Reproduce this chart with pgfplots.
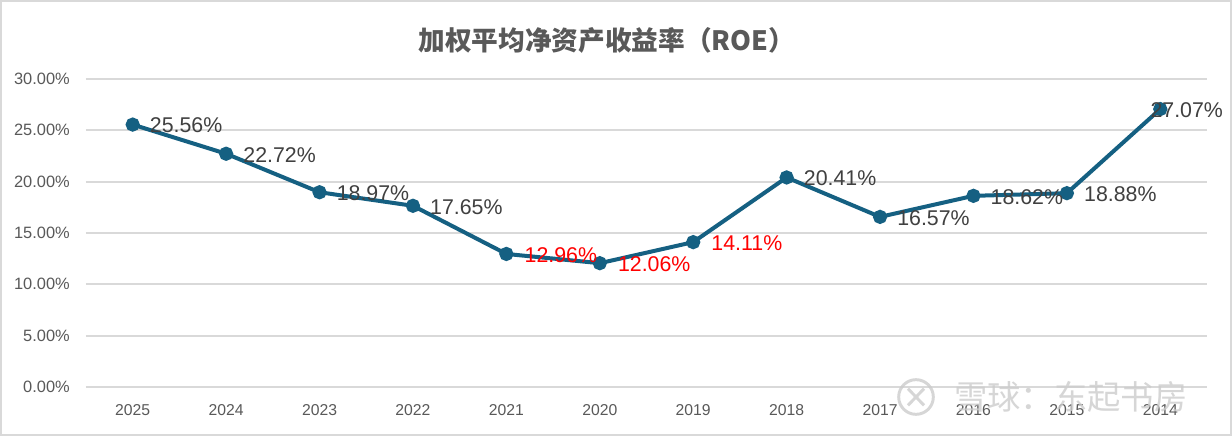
\documentclass[border=0pt]{standalone}
\usepackage{pgfplots}
\pgfplotsset{compat=1.18}
\usepackage{fontspec}
\setmainfont{Liberation Sans}
\newfontfamily\cjk{Noto Sans CJK SC}
\definecolor{lineblue}{HTML}{156082}
\definecolor{txt}{HTML}{404040}
\definecolor{tick}{HTML}{595959}
\definecolor{gridc}{HTML}{D9D9D9}
\begin{document}
\begin{tikzpicture}
\useasboundingbox (0,0) rectangle (924pt,327pt);
\fill[white] (0,0) rectangle (924pt,327pt);
\draw[gridc, line width=1.5pt] (0.75pt,0.75pt) rectangle (923.25pt,326.25pt);
\node[font=\cjk\bfseries\fontsize{20}{23}\selectfont, text=tick] at (455pt,297pt) {加权平均净资产收益率（ROE）};
\begin{axis}[
  at={(64.5pt,36.75pt)}, anchor=south west,
  scale only axis, width=840.75pt, height=231pt,
  xmin=-0.5, xmax=11.5, ymin=0, ymax=30,
  xtick={0,...,11},
  xticklabels={2025,2024,2023,2022,2021,2020,2019,2018,2017,2016,2015,2014},
  ytick={0,5,...,30},
  yticklabel={\pgfmathprintnumber[fixed,fixed zerofill,precision=2]{\tick}\%},
  /pgf/number format/assume math mode=true,
  axis line style={draw=none},
  major tick length=0pt, tick style={draw=none},
  xmajorgrids=false, ymajorgrids=true,
  y grid style={draw=gridc, line width=1.3pt},
  xticklabel style={font=\fontsize{11.8}{13}\selectfont, text=tick, anchor=north, inner sep=0pt, yshift=-12.75pt},
  yticklabel style={font=\fontsize{12.3}{14}\selectfont, text=tick, anchor=east, inner sep=0pt, xshift=-12pt},
  clip=false,
]
\addplot[lineblue, line width=3pt, mark=*, mark size=3.8pt, mark options={fill=lineblue, draw=lineblue}]
  coordinates {(0,25.56) (1,22.72) (2,18.97) (3,17.65) (4,12.96) (5,12.06) (6,14.11) (7,20.41) (8,16.57) (9,18.62) (10,18.88) (11,27.07)};
\addplot[draw=none, mark=none, point meta=explicit symbolic,
  nodes near coords, nodes near coords style={anchor=west, inner sep=0pt, xshift=12.75pt, yshift=-0.75pt, text=txt, font=\fontsize{16}{18}\selectfont}]
  coordinates {(0,25.56) [25.56\%] (1,22.72) [22.72\%] (2,18.97) [18.97\%] (3,17.65) [17.65\%] (7,20.41) [20.41\%] (8,16.57) [16.57\%] (9,18.62) [18.62\%] (10,18.88) [18.88\%]};
\addplot[draw=none, mark=none, point meta=explicit symbolic,
  nodes near coords, nodes near coords style={anchor=west, inner sep=0pt, xshift=13.5pt, yshift=-0.75pt, text=red, font=\fontsize{16}{18}\selectfont}]
  coordinates {(4,12.96) [12.96\%] (5,12.06) [12.06\%] (6,14.11) [14.11\%]};
\addplot[draw=none, mark=none, point meta=explicit symbolic,
  nodes near coords, nodes near coords style={anchor=west, inner sep=0pt, xshift=-7.5pt, yshift=-0.75pt, text=txt, font=\fontsize{16}{18}\selectfont}]
  coordinates {(11,27.07) [27.07\%]};
\end{axis}
\begin{scope}[opacity=0.8]
\draw[gray!40, line width=2.2pt] (687pt,29.25pt) circle (13pt);
\draw[gray!40, line width=2.2pt] (681pt,23pt) -- (693pt,35.5pt) (681pt,35.5pt) -- (693pt,23pt);
\node[font=\cjk\fontsize{25}{28}\selectfont, text=gray!40] at (803pt,29.25pt) {雪球：东起书房};
\end{scope}
\end{tikzpicture}
\end{document}
